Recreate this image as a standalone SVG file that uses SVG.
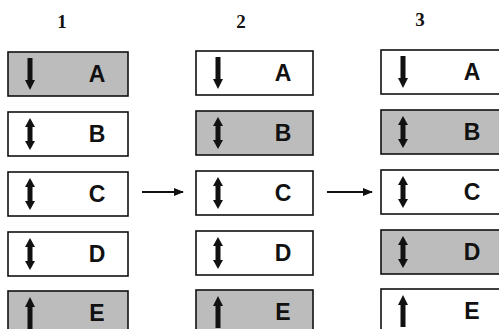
<svg xmlns="http://www.w3.org/2000/svg" width="499" height="329" viewBox="0 0 499 329">
<style>
.box{stroke:#111;stroke-width:1.6;fill:#fff}
.sh{fill:#bcbcbc}
.lt{font-family:"Liberation Sans",Arial,sans-serif;font-weight:bold;font-size:23px;fill:#111;text-anchor:middle}
.hd{font-family:"Liberation Serif","Times New Roman",serif;font-weight:bold;font-size:19px;fill:#111;text-anchor:middle}
.cn{stroke:#111;stroke-width:2;fill:none}
</style>
<defs>
<marker id="ah" markerWidth="10" markerHeight="10" refX="9" refY="5" orient="auto" markerUnits="userSpaceOnUse">
<path d="M0,1 L10,5 L0,9 Z" fill="#111"/>
</marker>
<g id="dn" fill="#111"><rect x="-2.5" y="-16" width="5" height="24"/><path d="M-5,6 L5,6 L0,16 Z"/></g>
<g id="up" fill="#111"><rect x="-2.5" y="-8" width="5" height="24"/><path d="M-5,-6 L5,-6 L0,-16 Z"/></g>
<g id="db" fill="#111"><rect x="-2.5" y="-9" width="5" height="18"/><path d="M-5,-7 L5,-7 L0,-16 Z"/><path d="M-5,7 L5,7 L0,16 Z"/></g>
</defs>
<text class="hd" x="62" y="28">1</text>
<text class="hd" x="241" y="28">2</text>
<text class="hd" x="420" y="26">3</text>
<g id="c1A"><rect class="box sh" x="8" y="52" width="120" height="44"/><use href="#dn" x="30" y="74"/><text class="lt" x="97" y="82">A</text></g>
<g id="c1B"><rect class="box" x="8" y="112" width="120" height="44"/><use href="#db" x="30" y="134"/><text class="lt" x="97" y="142">B</text></g>
<g id="c1C"><rect class="box" x="8" y="172" width="120" height="44"/><use href="#db" x="30" y="194"/><text class="lt" x="97" y="202">C</text></g>
<g id="c1D"><rect class="box" x="8" y="232" width="120" height="44"/><use href="#db" x="30" y="254"/><text class="lt" x="97" y="262">D</text></g>
<g id="c1E"><rect class="box sh" x="8" y="291" width="120" height="44"/><use href="#up" x="30" y="313"/><text class="lt" x="97" y="321">E</text></g>
<g id="c2A"><rect class="box" x="196" y="51" width="117" height="44"/><use href="#dn" x="218" y="73"/><text class="lt" x="283" y="81">A</text></g>
<g id="c2B"><rect class="box sh" x="196" y="111" width="117" height="44"/><use href="#db" x="218" y="133"/><text class="lt" x="283" y="141">B</text></g>
<g id="c2C"><rect class="box" x="196" y="171" width="117" height="44"/><use href="#db" x="218" y="193"/><text class="lt" x="283" y="201">C</text></g>
<g id="c2D"><rect class="box" x="196" y="231" width="117" height="44"/><use href="#db" x="218" y="253"/><text class="lt" x="283" y="261">D</text></g>
<g id="c2E"><rect class="box sh" x="196" y="290" width="117" height="44"/><use href="#up" x="218" y="312"/><text class="lt" x="283" y="320">E</text></g>
<g id="c3A"><rect class="box" x="381" y="50" width="130" height="44"/><use href="#dn" x="403" y="72"/><text class="lt" x="472" y="80">A</text></g>
<g id="c3B"><rect class="box sh" x="381" y="110" width="130" height="44"/><use href="#db" x="403" y="132"/><text class="lt" x="472" y="140">B</text></g>
<g id="c3C"><rect class="box" x="381" y="170" width="130" height="44"/><use href="#db" x="403" y="192"/><text class="lt" x="472" y="200">C</text></g>
<g id="c3D"><rect class="box sh" x="381" y="230" width="130" height="44"/><use href="#db" x="403" y="252"/><text class="lt" x="472" y="260">D</text></g>
<g id="c3E"><rect class="box" x="381" y="289" width="130" height="44"/><use href="#up" x="403" y="311"/><text class="lt" x="472" y="319">E</text></g>
<g id="connectors">
<line class="cn" x1="142" y1="192" x2="183" y2="192" marker-end="url(#ah)"/>
<line class="cn" x1="327" y1="192" x2="372" y2="192" marker-end="url(#ah)"/>
</g>
</svg>
